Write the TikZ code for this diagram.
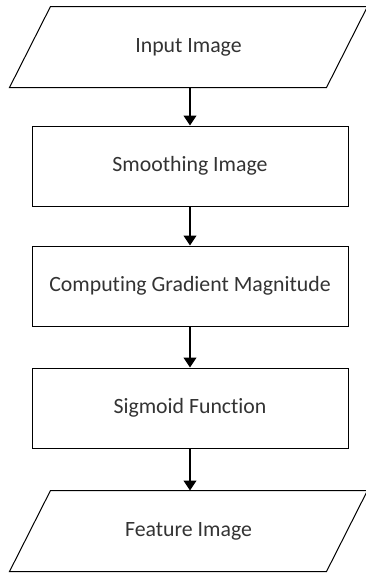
\documentclass[tikz,border=0pt]{standalone}
\usepackage{fontspec}
\setmainfont{Carlito}[Ligatures=NoCommon]
\usepackage{tikz}
\usetikzlibrary{arrows.meta, positioning}
\definecolor{FlowText}{HTML}{333333}

\begin{document}
\begin{tikzpicture}[
    procbox/.style={
      rectangle, draw=black, line width=1pt, text=FlowText,
      minimum width=316pt, minimum height=80pt, align=center, font=\fontsize{21.8}{24}\selectfont
    },
    iobox/.style={
      rectangle, line width=1pt, text=FlowText,
      minimum width=316pt, minimum height=80pt, align=center, font=\fontsize{21.8}{24}\selectfont
    },
    ioline/.style={draw=black, line width=1pt},
    arr/.style={-{Triangle[length=10pt, width=13pt]}, line width=1.2pt},
    node distance=39pt
  ]
    \useasboundingbox (0,0) rectangle (366pt,-573pt);

    \node[iobox] (input) at (188.5pt,-47pt) {Input Image};
    \node[procbox, below=38pt of input.south, anchor=north, xshift=1.5pt] (smooth) {Smoothing Image};
    \node[procbox, below=of smooth] (grad) {Computing Gradient Magnitude};
    \node[procbox, below=41pt of grad] (sigm) {Sigmoid Function};
    \node[iobox, below=42pt of sigm.south, anchor=north, xshift=-1.5pt] (feat) {Feature Image};

    % slanted input / output boxes
    \draw[ioline] ([xshift=20.5pt]input.north west) -- ([xshift=20.5pt]input.north east)
      -- ([xshift=-20.5pt]input.south east) -- ([xshift=-20.5pt]input.south west) -- cycle;
    \draw[ioline] ([xshift=20.5pt]feat.north west) -- ([xshift=20.5pt]feat.north east)
      -- ([xshift=-20.5pt]feat.south east) -- ([xshift=-20.5pt]feat.south west) -- cycle;

    \draw[arr] (input.south -| smooth) -- (smooth);
    \draw[arr] (smooth) -- (grad);
    \draw[arr] (grad) -- (sigm);
    \draw[arr] (sigm) -- (feat.north -| sigm);
  \end{tikzpicture}
\end{document}
